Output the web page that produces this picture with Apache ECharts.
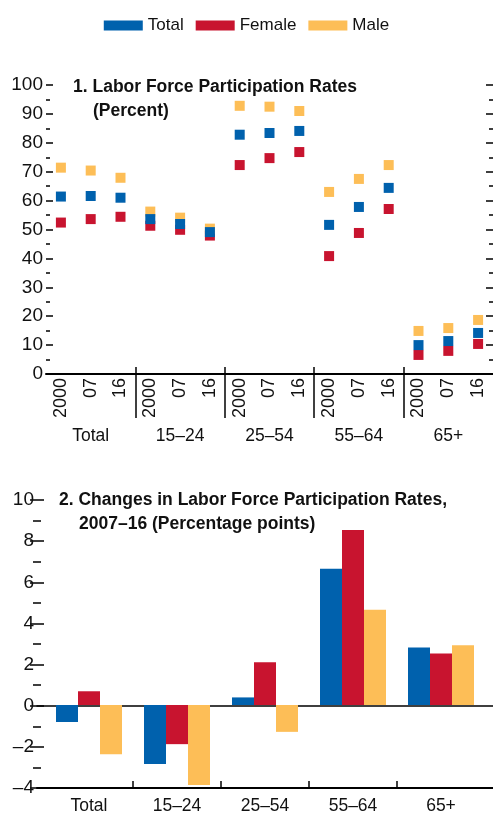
<!DOCTYPE html>
<html>
<head>
<meta charset="utf-8">
<script src="https://cdn.jsdelivr.net/npm/echarts@6/dist/echarts.min.js"></script>
<style>
  html, body { margin: 0; padding: 0; background: #fff; }
  #chart { width: 493px; height: 815px; }
</style>
</head>
<body>
<div id="chart"></div>
<script>
// categories
const groups = ['Total', '15–24', '25–54', '55–64', '65+'];
const years = ['2000', '07', '16'];

// panel 1: participation rates, percent (group x year)
const rateTotal  = [61.4, 61.6, 61.0, 53.6, 51.9, 49.1, 82.8, 83.4, 84.1, 51.6, 57.8, 64.4, 10.0, 11.4, 14.2];
const rateFemale = [52.4, 53.6, 54.4, 51.3, 49.9, 47.9, 72.3, 74.7, 76.8, 40.8, 48.8, 57.1, 6.6, 8.0, 10.4];
const rateMale   = [71.4, 70.4, 67.9, 56.2, 54.1, 50.3, 92.8, 92.5, 91.0, 63.0, 67.5, 72.3, 14.9, 15.9, 18.7];

// panel 2: changes 2007-16, percentage points
const changeTotal  = [-0.83, -2.88, 0.37, 6.65, 2.81];
const changeFemale = [0.67, -1.91, 2.08, 8.54, 2.51];
const changeMale   = [-2.4, -3.9, -1.31, 4.65, 2.92];

const COLORS = { Total: '#0061ad', Female: '#c8142f', Male: '#fdbe57' };
const FONT = "'Liberation Sans', Arial, sans-serif";
const INK = '#111';

// unique keys for the 15 year slots, label shows only the year
const yearKeys = [];
groups.forEach(function (g) {
  years.forEach(function (y) { yearKeys.push(g + '|' + y); });
});

const chart = echarts.init(document.getElementById('chart'));

function dash(v) {
  return v < 0 ? '\u2013' + Math.abs(v) : String(v);
}

function valueAxis(gridIndex, position, min, max, interval, labels) {
  return {
    type: 'value', gridIndex: gridIndex, position: position,
    min: min, max: max, interval: interval,
    axisLine: { show: false },
    axisTick: { show: true, inside: true, length: 7, lineStyle: { color: '#000', width: 1.5 } },
    minorTick: { show: true, splitNumber: 2, length: 4, lineStyle: { color: '#000', width: 1.5 } },
    splitLine: { show: false },
    axisLabel: { show: labels, margin: 3, formatter: dash, color: INK, fontFamily: FONT, fontSize: 19 }
  };
}

function hiddenY(gridIndex, min, max) {
  return { type: 'value', gridIndex: gridIndex, min: min, max: max, show: false };
}

function separatorAxis(gridIndex, showLabels, margin) {
  return {
    type: 'category', gridIndex: gridIndex, data: groups, position: 'bottom',
    axisLine: { show: false }, axisTick: { show: false },
    splitLine: { show: true, showMinLine: false, showMaxLine: false, interval: 0,
      lineStyle: { color: '#000', width: 1.5 } },
    axisLabel: { show: showLabels, interval: 0, margin: margin, color: INK, fontFamily: FONT, fontSize: 17.5 }
  };
}

function titleLine(text, left, top) {
  return { text: text, left: left, top: top, padding: 0,
    textStyle: { fontFamily: FONT, fontWeight: 'bold', fontSize: 17.5, color: INK } };
}

const option = {
  animation: false,
  legend: {
    top: 12, left: 'center', icon: 'rect',
    itemWidth: 39, itemHeight: 10, itemGap: 12,
    data: ['Total', 'Female', 'Male'],
    textStyle: { color: INK, fontFamily: FONT, fontSize: 17 }
  },
  title: [
    titleLine('1. Labor Force Participation Rates', 73, 78),
    titleLine('(Percent)', 93, 102),
    titleLine('2. Changes in Labor Force Participation Rates,', 59, 491),
    titleLine('2007–16 (Percentage points)', 79, 515)
  ],
  grid: [
    { left: 46, right: 0, top: 85, height: 289 },   // 0 rates
    { left: 46, right: 0, top: 367, height: 51 },   // 1 rates group separators
    { left: 45, right: 8, top: 500, height: 288 },  // 2 change bars
    { left: 45, right: 8, top: 781, height: 7 },    // 3 change group separators
    { left: 37, right: 0, top: 500, height: 288 }   // 4 change frame
  ],
  xAxis: [
    {
      type: 'category', gridIndex: 0, data: yearKeys,
      axisLine: { lineStyle: { color: '#000', width: 2 } },
      axisTick: { show: false },
      axisLabel: {
        interval: 0, rotate: 90, margin: 4, color: INK, fontFamily: FONT, fontSize: 18,
        formatter: function (v) { return v.split('|')[1]; }
      }
    },
    separatorAxis(1, true, 9),
    {
      type: 'category', gridIndex: 2, data: groups, position: 'bottom',
      axisLine: { show: false, onZero: false }, axisTick: { show: false },
      axisLabel: { interval: 0, margin: 10, color: INK, fontFamily: FONT, fontSize: 17.5 }
    },
    separatorAxis(3, false, 0),
    {
      type: 'value', gridIndex: 4, position: 'bottom', min: 0, max: 1,
      axisLine: { show: true, onZero: false, lineStyle: { color: '#000', width: 2 } },
      axisTick: { show: false }, axisLabel: { show: false }, splitLine: { show: false }
    },
    {
      type: 'value', gridIndex: 4, position: 'top', min: 0, max: 1,
      axisLine: { show: true, onZero: true, lineStyle: { color: '#000', width: 1.5 } },
      axisTick: { show: false }, axisLabel: { show: false }, splitLine: { show: false }
    }
  ],
  yAxis: [
    valueAxis(0, 'left', 0, 100, 10, true),
    valueAxis(0, 'right', 0, 100, 10, false),
    hiddenY(1, 0, 1),
    hiddenY(2, -4, 10),
    hiddenY(3, 0, 1),
    valueAxis(4, 'left', -4, 10, 2, true),
    valueAxis(4, 'right', -4, 10, 2, false)
  ],
  series: [
    { name: 'Female', type: 'scatter', xAxisIndex: 0, yAxisIndex: 0, symbol: 'rect', symbolSize: 10,
      itemStyle: { color: COLORS.Female, opacity: 1 }, data: rateFemale, z: 2 },
    { name: 'Male', type: 'scatter', xAxisIndex: 0, yAxisIndex: 0, symbol: 'rect', symbolSize: 10,
      itemStyle: { color: COLORS.Male, opacity: 1 }, data: rateMale, z: 2 },
    { name: 'Total', type: 'scatter', xAxisIndex: 0, yAxisIndex: 0, symbol: 'rect', symbolSize: 10,
      itemStyle: { color: COLORS.Total, opacity: 1 }, data: rateTotal, z: 3 },
    { name: 'Total', type: 'bar', xAxisIndex: 2, yAxisIndex: 3, barGap: 0, barCategoryGap: '25%',
      itemStyle: { color: COLORS.Total }, data: changeTotal },
    { name: 'Female', type: 'bar', xAxisIndex: 2, yAxisIndex: 3, barGap: 0, barCategoryGap: '25%',
      itemStyle: { color: COLORS.Female }, data: changeFemale },
    { name: 'Male', type: 'bar', xAxisIndex: 2, yAxisIndex: 3, barGap: 0, barCategoryGap: '25%',
      itemStyle: { color: COLORS.Male }, data: changeMale }
  ]
};

chart.setOption(option);
</script>
</body>
</html>
